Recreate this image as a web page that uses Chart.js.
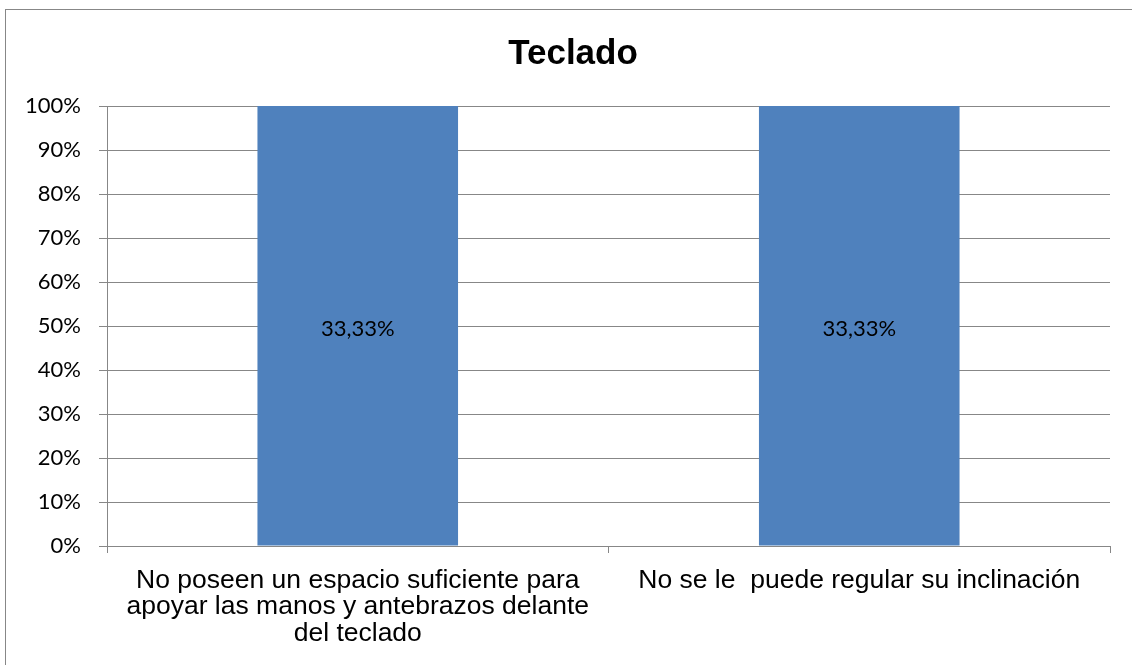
<!DOCTYPE html>
<html>
<head>
<meta charset="utf-8">
<script src="https://cdn.jsdelivr.net/npm/chart.js@4/dist/chart.umd.min.js"></script>
<style>
    html, body { margin: 0; padding: 0; background: #fff; }
    canvas { display: block; }
</style>
</head>
<body>
<canvas id="teclado" width="1132" height="665"></canvas>
<script>
// Datos del gráfico
const chartTitle = 'Teclado';
const categories = [
    ['No poseen un espacio suficiente para', 'apoyar las manos y antebrazos delante', 'del teclado'],
    'No se le  puede regular su inclinación'
];
const values = [100, 100];
const barLabels = ['33,33%', '33,33%'];
const yTickLabels = ['0%', '10%', '20%', '30%', '40%', '50%', '60%', '70%', '80%', '90%', '100%'];

const gridGray = '#878787';
// el marco del gráfico original sigue más allá del borde derecho de la imagen
const frame = { x: 5.5, y: 9.5, w: 1135, h: 700 };

/* ---- fondo blanco, marco exterior y título centrado en el marco ---- */
const frameBg = {
    id: 'frameBg',
    beforeDraw(chart) {
        const ctx = chart.ctx;
        ctx.save();
        ctx.fillStyle = '#fff';
        ctx.fillRect(0, 0, chart.width, chart.height);
        ctx.strokeStyle = gridGray;
        ctx.lineWidth = 1;
        ctx.strokeRect(frame.x, frame.y, frame.w, frame.h);
        ctx.fillStyle = '#000';
        ctx.font = 'bold 35px "Liberation Sans"';
        ctx.textAlign = 'center';
        ctx.textBaseline = 'middle';
        ctx.fillText(chartTitle, frame.x + frame.w / 2, 54);
        ctx.restore();
    }
};

/* ---- etiqueta centrada dentro de cada barra ---- */
const barText = {
    id: 'barText',
    afterDatasetsDraw(chart) {
        const ctx = chart.ctx;
        const meta = chart.getDatasetMeta(0);
        ctx.save();
        ctx.font = '22px Lato';
        ctx.fillStyle = '#000';
        ctx.textAlign = 'center';
        ctx.textBaseline = 'middle';
        meta.data.forEach((bar, i) => {
            const y = (bar.y + bar.base) / 2 + 3;
            ctx.fillText(barLabels[i], bar.x, y);
        });
        ctx.restore();
    }
};

new Chart(document.getElementById('teclado'), {
    type: 'bar',
    data: {
        labels: categories,
        datasets: [{
            data: values,
            backgroundColor: '#4F81BD',
            borderWidth: 0,
            barPercentage: 0.4,
            categoryPercentage: 1.0,
        }]
    },
    options: {
        responsive: false,
        animation: false,
        devicePixelRatio: 1,
        layout: { padding: { left: 0, right: 22, top: 106, bottom: 0 } },
        plugins: {
            legend: { display: false },
            tooltip: { enabled: false },
            title: { display: false },
        },
        scales: {
            x: {
                grid: {
                    drawOnChartArea: false,
                    drawTicks: true,
                    tickLength: 7,
                    color: gridGray,
                    offset: true,
                },
                border: { color: gridGray, width: 1 },
                ticks: {
                    color: '#000',
                    font: { family: 'Liberation Sans', size: 26.5, lineHeight: 1.0 },
                    padding: 14,
                    maxRotation: 0,
                    autoSkip: false,
                },
                afterFit(scale) { scale.height = 119; },
            },
            y: {
                min: 0,
                max: 100,
                grid: { color: gridGray, tickLength: 8, lineWidth: 1 },
                border: { color: gridGray, width: 1 },
                ticks: {
                    stepSize: 10,
                    color: '#000',
                    padding: 18,
                    font: { family: 'Lato', size: 22 },
                    callback: (v, i) => yTickLabels[i],
                },
                afterFit(scale) { scale.width = 107; },
            },
        },
    },
    plugins: [frameBg, barText],
});
</script>
</body>
</html>
